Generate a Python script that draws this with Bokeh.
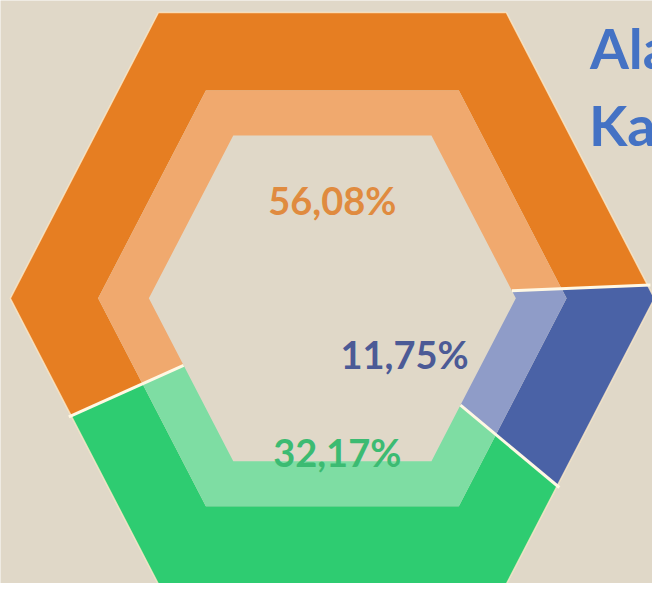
import math
from bokeh.plotting import figure
from bokeh.models import Range1d, ColumnDataSource
from bokeh.embed import file_html
from bokeh.resources import INLINE
from bokeh.core.properties import value

# ---- data ----
shares = [56.08, 11.75, 32.17]
labels = [f"{v:.2f}".replace(".", ",") + "%" for v in shares]
dark_colors = ["#E67E22", "#4A62A6", "#2ECC71"]
light_colors = ["#F0A96E", "#8F9CC8", "#7EDDA3"]
label_colors = ["#E08B3F", "#4B5A96", "#3CBB72"]
title_lines = ["Ala", "Ka"]

# ---- layout (reference pixel frame) ----
FW, FH = 668, 599
CX, CY = 340, 306
R_OUT, R_MID, R_IN = 330, 240, 188
HEX_A, HEX_H = 0.54, 0.89
START = 204.3          # degrees, slices run clockwise from here
label_pos_x = [340, 414, 345]
label_base_y = [205, 363, 464]
title_x = [604, 603]
title_base_y = [48, 127]
BG = "#E0D8C8"

VERT_ANG = math.degrees(math.atan2(HEX_H, HEX_A))
unit_vert_angles = [0, VERT_ANG, 180 - VERT_ANG, 180, 180 + VERT_ANG, 360 - VERT_ANG]


def unit_hex():
    return [(1, 0), (HEX_A, HEX_H), (-HEX_A, HEX_H), (-1, 0), (-HEX_A, -HEX_H), (HEX_A, -HEX_H)]


def cross(a, b):
    return a[0] * b[1] - a[1] * b[0]


def ray_point(R, ang):
    th = math.radians(ang)
    d = (math.cos(th), math.sin(th))
    vs = unit_hex()
    best = None
    for i in range(6):
        P = vs[i]
        Q = vs[(i + 1) % 6]
        e = (Q[0] - P[0], Q[1] - P[1])
        den = cross(d, e)
        if abs(den) < 1e-12:
            continue
        t = cross(P, e) / den
        s = cross(P, d) / den
        if t > 0 and -1e-9 <= s <= 1 + 1e-9:
            if best is None or t < best:
                best = t
    r = best * R
    return (CX + r * d[0], CY - r * d[1])


def boundary(R, a_from, a_to):
    # clockwise: a_from > a_to
    pts = [ray_point(R, a_from)]
    verts = []
    for va in unit_vert_angles:
        for k in range(-2, 3):
            v = va + 360 * k
            if a_to < v < a_from:
                verts.append(v)
    for v in sorted(verts, reverse=True):
        pts.append(ray_point(R, v))
    pts.append(ray_point(R, a_to))
    return pts


def band(R1, R2, a_from, a_to):
    outer = boundary(R2, a_from, a_to)
    inner = boundary(R1, a_from, a_to)[::-1]
    pts = outer + inner
    return [p[0] for p in pts], [p[1] for p in pts]


# angles
edges = [START]
for v in shares:
    edges.append(edges[-1] - v / 100 * 360)

dark_xs, dark_ys, light_xs, light_ys = [], [], [], []
for i in range(len(shares)):
    x, y = band(R_MID, R_OUT, edges[i], edges[i + 1])
    dark_xs.append(x)
    dark_ys.append(y)
    x, y = band(R_IN, R_MID, edges[i], edges[i + 1])
    light_xs.append(x)
    light_ys.append(y)

p = figure(width=652, height=583, x_range=Range1d(0, FW), y_range=Range1d(FH, 0),
           output_backend="svg", toolbar_location=None, min_border=0)
p.min_border_left = p.min_border_right = p.min_border_top = p.min_border_bottom = 0
p.axis.visible = False
p.grid.visible = False
p.outline_line_color = None
p.background_fill_color = BG
p.border_fill_color = BG

p.patches(xs=dark_xs, ys=dark_ys, fill_color=dark_colors, line_color=None)
p.patches(xs=light_xs, ys=light_ys, fill_color=light_colors, line_color=None)

# soft outer rim
rim = boundary(R_OUT, START, START - 360)
p.line([q[0] for q in rim], [q[1] for q in rim], line_color="#FBE8C8", line_width=1.5, line_alpha=0.8)

# separators
sep_xs, sep_ys = [], []
for a in edges[:-1]:
    p1 = ray_point(R_IN, a)
    p2 = ray_point(R_OUT + 3, a)
    sep_xs.append([p1[0], p2[0]])
    sep_ys.append([p1[1], p2[1]])
p.multi_line(xs=sep_xs, ys=sep_ys, line_color="#FFF8E4", line_width=3)

lab_src = ColumnDataSource(dict(x=label_pos_x, y=label_base_y, t=labels, c=label_colors))
p.text(x="x", y="y", text="t", text_color="c", source=lab_src,
       text_font=value("Lato"), text_font_style="bold", text_font_size="38px",
       text_align="center", text_baseline="alphabetic")

ttl_src = ColumnDataSource(dict(x=title_x, y=title_base_y, t=title_lines))
p.text(x="x", y="y", text="t", source=ttl_src, text_color="#4472C4",
       text_font=value("Lato"), text_font_style="bold", text_font_size="56px",
       text_align="left", text_baseline="alphabetic")

html = file_html(p, INLINE)
html = html.replace("<body>", '<body style="background:%s">' % BG, 1)
open("out.html", "w").write(html)
